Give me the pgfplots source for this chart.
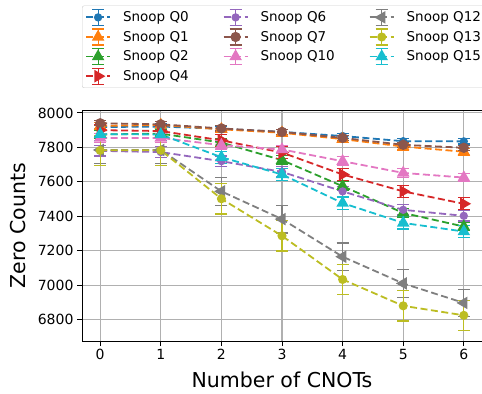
\documentclass[border=0pt]{standalone}
\usepackage{fontspec}
\setmainfont{DejaVu Sans}
\usepackage{pgfplots}
\pgfplotsset{compat=1.18}
\definecolor{c0}{HTML}{1F77B4}
\definecolor{c1}{HTML}{FF7F0E}
\definecolor{c2}{HTML}{2CA02C}
\definecolor{c3}{HTML}{D62728}
\definecolor{c4}{HTML}{9467BD}
\definecolor{c5}{HTML}{8C564B}
\definecolor{c6}{HTML}{E377C2}
\definecolor{c7}{HTML}{7F7F7F}
\definecolor{c8}{HTML}{BCBD22}
\definecolor{c9}{HTML}{17BECF}
\definecolor{gridgray}{HTML}{B0B0B0}
\pgfplotsset{
  errleg/.style={legend image code/.code={
    \draw[##1, solid, mark=none, line width=1.2pt] (12pt,-8pt) -- (12pt,8pt) (6pt,-8pt) -- (18pt,-8pt) (6pt,8pt) -- (18pt,8pt);
    \draw[mark repeat=2, mark phase=2, ##1] plot coordinates {(0pt,0pt) (12pt,0pt) (24pt,0pt)};
  }},
  dl/.style={dash pattern=on 7pt off 3.5pt, line width=1.8pt},
  sQ0/.style={c0, dl, mark=*, mark size=3.2pt, mark options={solid, fill=c0, draw=c0}, errleg},
  sQ1/.style={c1, dl, mark=triangle*, mark size=5.5pt, mark options={solid, fill=c1, draw=c1}, errleg},
  sQ2/.style={c2, dl, mark=triangle*, mark size=5.5pt, mark options={solid, fill=c2, draw=c2}, errleg},
  sQ4/.style={c3, dl, mark=triangle*, mark size=5.5pt, mark options={solid, fill=c3, draw=c3, rotate=-90}, errleg},
  sQ6/.style={c4, dl, mark=*, mark size=3.2pt, mark options={solid, fill=c4, draw=c4}, errleg},
  sQ7/.style={c5, dl, mark=*, mark size=4.2pt, mark options={solid, fill=c5, draw=c5}, errleg},
  sQ10/.style={c6, dl, mark=triangle*, mark size=5.5pt, mark options={solid, fill=c6, draw=c6}, errleg},
  sQ12/.style={c7, dl, mark=triangle*, mark size=5.5pt, mark options={solid, fill=c7, draw=c7, rotate=90}, errleg},
  sQ13/.style={c8, dl, mark=*, mark size=3.6pt, mark options={solid, fill=c8, draw=c8}, errleg},
  sQ15/.style={c9, dl, mark=triangle*, mark size=5.5pt, mark options={solid, fill=c9, draw=c9}, errleg},
  errs/.style={forget plot, error bars/.cd, y dir=both, y explicit,
    error bar style={solid, line width=1.2pt},
    error mark options={rotate=90, mark size=6pt, line width=1.2pt, solid}},
}
\begin{document}
\begin{tikzpicture}
\begin{axis}[name=ax, scale only axis, width=400pt, height=231pt,
  xmin=-0.3, xmax=6.3, ymin=6677, ymax=8017,
  xtick={0,1,2,3,4,5,6}, ytick={6800,7000,7200,7400,7600,7800,8000},
  tick align=outside, tick pos=left, major tick length=5pt,
  every tick/.style={black, line width=0.9pt},
  grid=major, major grid style={line width=1.1pt, color=gridgray},
  axis line style={line width=0.9pt},
  tick label style={font=\fontsize{14}{16}\selectfont},
  /pgf/number format/assume math mode=true,
  /pgf/number format/1000 sep={},
  xlabel={Number of CNOTs}, ylabel={Zero Counts},
  every axis x label/.style={at={(rel axis cs:0.5,0)}, yshift=-39pt, anchor=center, font=\fontsize{20.5}{24}\selectfont},
  every axis y label/.style={at={(rel axis cs:0,0.5)}, xshift=-64pt, rotate=90, anchor=center, font=\fontsize{20.5}{24}\selectfont},
  legend columns=3,
  legend cell align=left,
  legend style={at={(0,1)}, anchor=south west, yshift=22pt,
    font=\fontsize{13.5}{16}\selectfont, draw=black!20, rounded corners=2pt,
    row sep=2.4pt, inner xsep=3pt, inner ysep=3pt,
    /tikz/every odd column/.append style={column sep=10pt},
    /tikz/every even column/.append style={column sep=32pt}},
]
\addplot[sQ0, errs] table[y error=e] {
x y e
0 7918 15
1 7921 15
2 7908 15
3 7890 15
4 7866 15
5 7836 15
6 7835 15
};
\addplot[sQ1, errs] table[y error=e] {
x y e
0 7925 20
1 7930 20
2 7905 20
3 7885 20
4 7848 20
5 7805 20
6 7775 20
};
\addplot[sQ2, errs] table[y error=e] {
x y e
0 7875 25
1 7880 25
2 7828 25
3 7726 25
4 7575 25
5 7420 25
6 7341 25
};
\addplot[sQ4, errs] table[y error=e] {
x y e
0 7900 35
1 7895 35
2 7841 35
3 7770 35
4 7643 35
5 7545 35
6 7473 35
};
\addplot[sQ6, errs] table[y error=e] {
x y e
0 7780 30
1 7773 30
2 7720 30
3 7658 30
4 7545 30
5 7438 30
6 7403 30
};
\addplot[sQ7, errs] table[y error=e] {
x y e
0 7940 15
1 7934 15
2 7910 15
3 7890 15
4 7855 15
5 7815 15
6 7798 15
};
\addplot[sQ10, errs] table[y error=e] {
x y e
0 7855 25
1 7855 25
2 7813 25
3 7788 25
4 7720 25
5 7652 25
6 7625 25
};
\addplot[sQ12, errs] table[y error=e] {
x y e
0 7785 80
1 7785 80
2 7545 80
3 7384 80
4 7166 80
5 7011 80
6 6898 80
};
\addplot[sQ13, errs] table[y error=e] {
x y e
0 7783 88
1 7783 88
2 7502 88
3 7287 88
4 7034 88
5 6881 88
6 6826 88
};
\addplot[sQ15, errs] table[y error=e] {
x y e
0 7877 35
1 7875 35
2 7743 35
3 7643 35
4 7477 35
5 7362 35
6 7312 35
};
\addlegendimage{sQ0}\addlegendentry{Snoop Q0}
\addlegendimage{sQ6}\addlegendentry{Snoop Q6}
\addlegendimage{sQ12}\addlegendentry{Snoop Q12}
\addlegendimage{sQ1}\addlegendentry{Snoop Q1}
\addlegendimage{sQ7}\addlegendentry{Snoop Q7}
\addlegendimage{sQ13}\addlegendentry{Snoop Q13}
\addlegendimage{sQ2}\addlegendentry{Snoop Q2}
\addlegendimage{sQ10}\addlegendentry{Snoop Q10}
\addlegendimage{sQ15}\addlegendentry{Snoop Q15}
\addlegendimage{sQ4}\addlegendentry{Snoop Q4}
\end{axis}
\pgfresetboundingbox
\path[use as bounding box] ([shift={(-82pt,-52pt)}]ax.south west) rectangle ([shift={(0pt,110pt)}]ax.north east);
\end{tikzpicture}
\end{document}
